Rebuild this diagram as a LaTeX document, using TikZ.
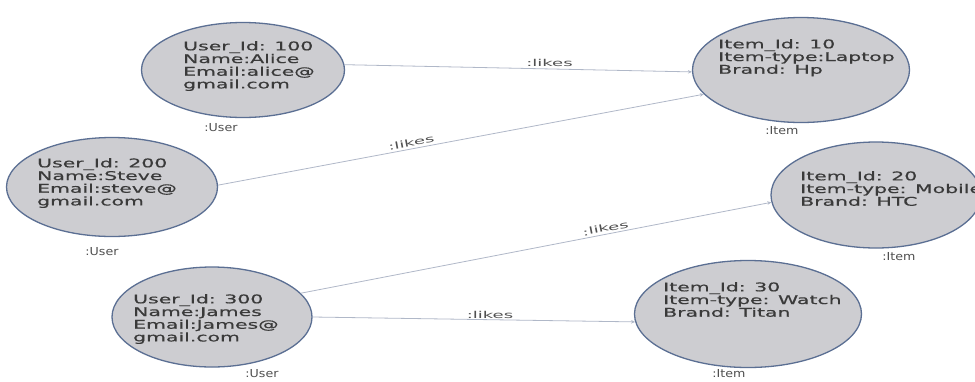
\documentclass[tikz,border=0pt]{standalone}
\usepackage{fontspec}
\setmainfont{DejaVu Sans}
\newfontfamily\widefont[FakeStretch=1.7,FakeBold=0.6]{DejaVu Sans}
\newfontfamily\labfont[FakeStretch=1.9]{DejaVu Sans}
\newfontfamily\rolefont[FakeStretch=1.15]{DejaVu Sans}
\usetikzlibrary{shapes.geometric,arrows.meta}
\definecolor{entfill}{HTML}{CDCDD1}
\definecolor{entborder}{HTML}{5B6F93}
\definecolor{txtcol}{HTML}{3A3A3A}
\definecolor{edgecol}{HTML}{B0B8C8}
\definecolor{labcol}{HTML}{505050}
\begin{document}
\begin{tikzpicture}[x=1pt,y=-1pt,
 ent/.style={ellipse, draw=entborder, fill=entfill, line width=1.3pt, inner sep=0pt},
 txt/.style={anchor=north west, inner sep=0pt, align=left, text=txtcol, font=\widefont\fontsize{12}{12.7}\selectfont},
 role/.style={inner sep=0pt, text=labcol, font=\rolefont\fontsize{11}{12}\selectfont},
 rel/.style={draw=edgecol, line width=0.8pt, -{Stealth[length=4pt,width=3.5pt]}},
 rlab/.style={text=labcol, font=\labfont\fontsize{9.5}{11}\selectfont, inner sep=2pt}
]
\useasboundingbox (0,0) rectangle (975,381);
\clip (0,0) rectangle (975,381);
\fill[white] (0,0) rectangle (975,381);

% users
\node[ent, minimum width=203pt, minimum height=95pt] (u1) at (243,70) {};
\node[ent, minimum width=211pt, minimum height=99pt] (u2) at (112,187) {};
\node[ent, minimum width=200pt, minimum height=100pt] (u3) at (212,317) {};
% items
\node[ent, minimum width=217pt, minimum height=105pt] (i1) at (801,70) {};
\node[ent, minimum width=210pt, minimum height=106pt] (i2) at (876,195) {};
\node[ent, minimum width=227pt, minimum height=107pt] (i3) at (748,314) {};

% texts
\node[txt] (t1) at (183,41) {User\_Id: 100\\Name:Alice\\Email:alice@\\gmail.com};
\node[txt] (t2) at (37,158) {User\_Id: 200\\Name:Steve\\Email:steve@\\gmail.com};
\node[txt] (t3) at (133,294) {User\_Id: 300\\Name:James\\Email:James@\\gmail.com};
\node[txt] (t4) at (718,39) {Item\_Id: 10\\Item-type:Laptop\\Brand: Hp};
\node[txt] (t5) at (800,171) {Item\_Id: 20\\Item-type: Mobile\\Brand: HTC};
\node[txt] (t6) at (663,282) {Item\_Id: 30\\Item-type: Watch\\Brand: Titan};

% role labels
\node[role] (r1) at (221,128) {:User};
\node[role] (r2) at (102,252) {:User};
\node[role] (r3) at (262,374) {:User};
\node[role] (r4) at (782,131) {:Item};
\node[role] (r5) at (899,257) {:Item};
\node[role] (r6) at (729,374) {:Item};

% relations
\draw[rel] (u1.3) -- node[rlab, above, pos=0.59] (l1) {:likes} (i1.181);
\draw[rel] (u2.1) -- node[rlab, above, sloped, pos=0.4] (l2) {:likes} (i1.194);
\draw[rel] (u3.15) -- node[rlab, above, sloped, pos=0.65] (l3) {:likes} (i2.184);
\draw[rel] (u3.0) -- node[rlab, above, pos=0.55, inner sep=1pt] (l4) {:likes} (i3.184);
\end{tikzpicture}
\end{document}
